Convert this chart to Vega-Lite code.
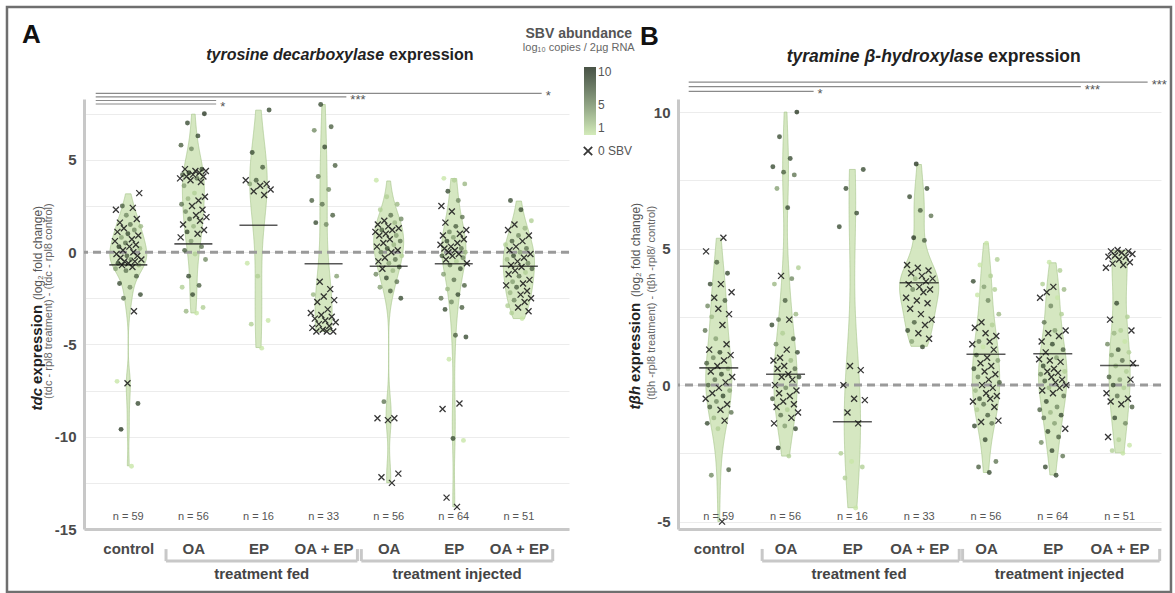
{
"$schema": "https://vega.github.io/schema/vega-lite/v6.json",
"background": "white",
"padding": {"left": 5, "top": 5, "right": 0, "bottom": 0},
"autosize": {"type": "pad"},
"bounds": "flush",
"spacing": 109,
"resolve": {"scale": {"color": "independent", "shape": "independent"}},
"config": {
  "font": "Liberation Sans",
  "view": {"stroke": null},
  "axis": {"domainColor": "#c8c8c8", "domainWidth": 3, "ticks": false, "labelFontSize": 15, "labelFontWeight": "bold", "labelColor": "#4a4a4a", "gridColor": "#ececec", "labelFont": "Liberation Sans", "labelFlush": false},
  "legend": {"labelFont": "Liberation Sans"},
  "text": {"font": "Liberation Sans"}
},
"datasets": {
  "one": [{}],
  "nn": [{"g":0,"n":59},{"g":1,"n":56},{"g":2,"n":16},{"g":3,"n":33},{"g":4,"n":56},{"g":5,"n":64},{"g":6,"n":51}],
  "brk": [{"from":1,"to":3,"lab":"treatment fed"},{"from":4,"to":6,"lab":"treatment injected"}],
  "sigA": [{"to":6,"lab":"*","tier":0},{"to":3,"lab":"***","tier":1},{"to":1,"lab":"","tier":2},{"to":1,"lab":"*","tier":3}],
  "sigB": [{"to":6,"lab":"***","tier":0},{"to":5,"lab":"***","tier":1},{"to":1,"lab":"*","tier":2}],
  "medA": [{"g":0,"m":-0.69},{"g":1,"m":0.45},{"g":2,"m":1.46},{"g":3,"m":-0.63},{"g":4,"m":-0.76},{"g":5,"m":-0.63},{"g":6,"m":-0.76}],
  "medB": [{"g":0,"m":0.63},{"g":1,"m":0.4},{"g":2,"m":-1.34},{"g":3,"m":3.75},{"g":4,"m":1.13},{"g":5,"m":1.15},{"g":6,"m":0.72}],
  "tdc": [
{"g":0,"v":3.2,"s":0},{"g":0,"v":2.4,"s":0},{"g":0,"v":2.3,"s":0},{"g":0,"v":1.8,"s":0},{"g":0,"v":1.6,"s":0},{"g":0,"v":1.3,"s":0},{"g":0,"v":1.1,"s":0},{"g":0,"v":0.9,"s":0},{"g":0,"v":0.7,"s":0},{"g":0,"v":0.6,"s":0},{"g":0,"v":0.4,"s":0},{"g":0,"v":0.3,"s":0},{"g":0,"v":0.1,"s":0},{"g":0,"v":0,"s":0},{"g":0,"v":-0.1,"s":0},{"g":0,"v":-0.2,"s":0},{"g":0,"v":-0.3,"s":0},{"g":0,"v":-0.4,"s":0},{"g":0,"v":-0.5,"s":0},{"g":0,"v":-0.5,"s":0},{"g":0,"v":-0.6,"s":0},{"g":0,"v":-0.7,"s":0},{"g":0,"v":-0.8,"s":0},{"g":0,"v":-3.2,"s":0},{"g":0,"v":-7.1,"s":0},
{"g":0,"v":2.5,"s":7},{"g":0,"v":2.0,"s":5},{"g":0,"v":1.5,"s":6},{"g":0,"v":1.4,"s":3},{"g":0,"v":1.0,"s":8},{"g":0,"v":0.8,"s":4},{"g":0,"v":0.5,"s":6},{"g":0,"v":0.2,"s":3},{"g":0,"v":-0.2,"s":7},{"g":0,"v":-0.4,"s":5},{"g":0,"v":-0.6,"s":8},{"g":0,"v":-0.9,"s":4},{"g":0,"v":-1.0,"s":6},{"g":0,"v":-1.3,"s":7},{"g":0,"v":-1.7,"s":8},{"g":0,"v":-1.9,"s":5},{"g":0,"v":-2.3,"s":8},{"g":0,"v":-2.5,"s":6},{"g":0,"v":-7.0,"s":1},{"g":0,"v":-8.2,"s":8},{"g":0,"v":-9.6,"s":9},{"g":0,"v":-11.6,"s":1},{"g":0,"v":1.2,"s":5},{"g":0,"v":-0.7,"s":3},{"g":0,"v":0.3,"s":9},
{"g":1,"v":4.5,"s":0},{"g":1,"v":4.4,"s":0},{"g":1,"v":4.4,"s":0},{"g":1,"v":4.3,"s":0},{"g":1,"v":4.2,"s":0},{"g":1,"v":4.1,"s":0},{"g":1,"v":4.1,"s":0},{"g":1,"v":4.0,"s":0},{"g":1,"v":3.9,"s":0},{"g":1,"v":3.8,"s":0},{"g":1,"v":3.0,"s":0},{"g":1,"v":2.8,"s":0},{"g":1,"v":2.5,"s":0},{"g":1,"v":2.3,"s":0},{"g":1,"v":2.0,"s":0},{"g":1,"v":1.9,"s":0},{"g":1,"v":1.7,"s":0},{"g":1,"v":1.5,"s":0},{"g":1,"v":1.2,"s":0},{"g":1,"v":1.0,"s":0},{"g":1,"v":0.8,"s":0},
{"g":1,"v":7.5,"s":9},{"g":1,"v":7.0,"s":8},{"g":1,"v":6.3,"s":8},{"g":1,"v":5.8,"s":7},{"g":1,"v":5.6,"s":5},{"g":1,"v":4.5,"s":8},{"g":1,"v":4.3,"s":9},{"g":1,"v":4.2,"s":7},{"g":1,"v":4.0,"s":6},{"g":1,"v":3.6,"s":4},{"g":1,"v":3.2,"s":2},{"g":1,"v":2.9,"s":3},{"g":1,"v":2.6,"s":6},{"g":1,"v":2.2,"s":5},{"g":1,"v":1.8,"s":7},{"g":1,"v":1.4,"s":3},{"g":1,"v":1.1,"s":8},{"g":1,"v":0.6,"s":4},{"g":1,"v":0.3,"s":6},{"g":1,"v":0.1,"s":7},{"g":1,"v":-0.1,"s":2},{"g":1,"v":-0.4,"s":5},{"g":1,"v":-1.3,"s":8},{"g":1,"v":-1.8,"s":7},{"g":1,"v":-1.9,"s":2},{"g":1,"v":-2.3,"s":8},{"g":1,"v":-3.0,"s":2},{"g":1,"v":-3.3,"s":1},{"g":1,"v":-3.2,"s":3},
{"g":2,"v":7.7,"s":8},{"g":2,"v":5.4,"s":8},{"g":2,"v":4.6,"s":7},{"g":2,"v":3.9,"s":7},{"g":2,"v":3.7,"s":4},{"g":2,"v":3.9,"s":0},{"g":2,"v":3.7,"s":0},{"g":2,"v":3.6,"s":0},{"g":2,"v":3.4,"s":0},{"g":2,"v":3.3,"s":0},{"g":2,"v":3.1,"s":0},{"g":2,"v":-0.6,"s":1},{"g":2,"v":-1.3,"s":2},{"g":2,"v":-3.7,"s":1},{"g":2,"v":-3.9,"s":2},{"g":2,"v":-5.2,"s":1},
{"g":3,"v":8.0,"s":8},{"g":3,"v":6.8,"s":7},{"g":3,"v":6.6,"s":5},{"g":3,"v":5.7,"s":8},{"g":3,"v":4.7,"s":7},{"g":3,"v":4.1,"s":6},{"g":3,"v":3.4,"s":5},{"g":3,"v":2.8,"s":7},{"g":3,"v":2.6,"s":6},{"g":3,"v":2.0,"s":7},{"g":3,"v":1.6,"s":8},{"g":3,"v":1.5,"s":5},{"g":3,"v":-1.3,"s":4},{"g":3,"v":-2.3,"s":3},
{"g":3,"v":-1.6,"s":0},{"g":3,"v":-2.0,"s":0},{"g":3,"v":-2.4,"s":0},{"g":3,"v":-2.6,"s":0},{"g":3,"v":-2.7,"s":0},{"g":3,"v":-3.1,"s":0},{"g":3,"v":-3.3,"s":0},{"g":3,"v":-3.4,"s":0},{"g":3,"v":-3.5,"s":0},{"g":3,"v":-3.6,"s":0},{"g":3,"v":-3.7,"s":0},{"g":3,"v":-3.8,"s":0},{"g":3,"v":-3.9,"s":0},{"g":3,"v":-4.0,"s":0},{"g":3,"v":-4.1,"s":0},{"g":3,"v":-4.2,"s":0},{"g":3,"v":-4.3,"s":0},{"g":3,"v":-4.3,"s":0},{"g":3,"v":-4.3,"s":0},
{"g":4,"v":1.7,"s":0},{"g":4,"v":1.5,"s":0},{"g":4,"v":1.4,"s":0},{"g":4,"v":1.3,"s":0},{"g":4,"v":1.2,"s":0},{"g":4,"v":1.1,"s":0},{"g":4,"v":1.0,"s":0},{"g":4,"v":0.9,"s":0},{"g":4,"v":0.7,"s":0},{"g":4,"v":0.5,"s":0},{"g":4,"v":0.3,"s":0},{"g":4,"v":0.1,"s":0},{"g":4,"v":0.0,"s":0},{"g":4,"v":-0.3,"s":0},{"g":4,"v":-0.5,"s":0},{"g":4,"v":-0.9,"s":0},{"g":4,"v":-9.0,"s":0},{"g":4,"v":-9.0,"s":0},{"g":4,"v":-9.1,"s":0},{"g":4,"v":-12.0,"s":0},{"g":4,"v":-12.2,"s":0},{"g":4,"v":-12.5,"s":0},
{"g":4,"v":3.9,"s":1},{"g":4,"v":3.0,"s":2},{"g":4,"v":2.6,"s":3},{"g":4,"v":2.3,"s":2},{"g":4,"v":2.0,"s":6},{"g":4,"v":1.8,"s":5},{"g":4,"v":1.6,"s":3},{"g":4,"v":1.2,"s":7},{"g":4,"v":0.9,"s":4},{"g":4,"v":0.6,"s":6},{"g":4,"v":0.4,"s":3},{"g":4,"v":0.2,"s":8},{"g":4,"v":0.0,"s":5},{"g":4,"v":-0.2,"s":2},{"g":4,"v":-0.4,"s":6},{"g":4,"v":-0.6,"s":4},{"g":4,"v":-0.8,"s":7},{"g":4,"v":-1.0,"s":3},{"g":4,"v":-1.2,"s":5},{"g":4,"v":-1.4,"s":8},{"g":4,"v":-1.6,"s":6},{"g":4,"v":-1.9,"s":4},{"g":4,"v":-2.1,"s":7},{"g":4,"v":-2.5,"s":8},{"g":4,"v":-8.1,"s":6},
{"g":5,"v":2.5,"s":0},{"g":5,"v":2.2,"s":0},{"g":5,"v":1.6,"s":0},{"g":5,"v":1.2,"s":0},{"g":5,"v":1.0,"s":0},{"g":5,"v":0.9,"s":0},{"g":5,"v":0.7,"s":0},{"g":5,"v":0.5,"s":0},{"g":5,"v":0.4,"s":0},{"g":5,"v":0.3,"s":0},{"g":5,"v":0.2,"s":0},{"g":5,"v":0.1,"s":0},{"g":5,"v":0.0,"s":0},{"g":5,"v":-0.1,"s":0},{"g":5,"v":-0.2,"s":0},{"g":5,"v":-0.4,"s":0},{"g":5,"v":-0.6,"s":0},{"g":5,"v":-8.2,"s":0},{"g":5,"v":-8.5,"s":0},{"g":5,"v":-13.3,"s":0},{"g":5,"v":-13.8,"s":0},
{"g":5,"v":4.0,"s":1},{"g":5,"v":3.9,"s":2},{"g":5,"v":3.7,"s":3},{"g":5,"v":3.3,"s":8},{"g":5,"v":2.8,"s":5},{"g":5,"v":1.9,"s":6},{"g":5,"v":1.4,"s":7},{"g":5,"v":1.1,"s":5},{"g":5,"v":0.8,"s":4},{"g":5,"v":0.6,"s":8},{"g":5,"v":0.2,"s":6},{"g":5,"v":0.0,"s":3},{"g":5,"v":-0.2,"s":7},{"g":5,"v":-0.3,"s":5},{"g":5,"v":-0.5,"s":2},{"g":5,"v":-0.7,"s":6},{"g":5,"v":-0.9,"s":8},{"g":5,"v":-1.2,"s":4},{"g":5,"v":-1.5,"s":6},{"g":5,"v":-1.8,"s":7},{"g":5,"v":-2.0,"s":3},{"g":5,"v":-2.3,"s":8},{"g":5,"v":-2.5,"s":6},{"g":5,"v":-2.7,"s":5},{"g":5,"v":-3.0,"s":7},{"g":5,"v":-3.1,"s":8},{"g":5,"v":-4.5,"s":7},{"g":5,"v":-4.6,"s":8},{"g":5,"v":-5.8,"s":1},{"g":5,"v":-10.1,"s":8},{"g":5,"v":-10.2,"s":1},
{"g":6,"v":1.5,"s":0},{"g":6,"v":1.2,"s":0},{"g":6,"v":0.9,"s":0},{"g":6,"v":0.6,"s":0},{"g":6,"v":0.3,"s":0},{"g":6,"v":0.1,"s":0},{"g":6,"v":-0.1,"s":0},{"g":6,"v":-0.3,"s":0},{"g":6,"v":-0.5,"s":0},{"g":6,"v":-0.7,"s":0},{"g":6,"v":-0.8,"s":0},{"g":6,"v":-1.0,"s":0},{"g":6,"v":-1.2,"s":0},{"g":6,"v":-1.5,"s":0},{"g":6,"v":-1.7,"s":0},{"g":6,"v":-1.8,"s":0},{"g":6,"v":-2.1,"s":0},{"g":6,"v":-2.3,"s":0},{"g":6,"v":-2.5,"s":0},{"g":6,"v":-2.7,"s":0},{"g":6,"v":-3.0,"s":0},{"g":6,"v":-3.2,"s":0},
{"g":6,"v":2.8,"s":8},{"g":6,"v":2.3,"s":8},{"g":6,"v":1.7,"s":2},{"g":6,"v":1.3,"s":3},{"g":6,"v":0.9,"s":5},{"g":6,"v":0.6,"s":7},{"g":6,"v":0.4,"s":2},{"g":6,"v":0.2,"s":6},{"g":6,"v":0.0,"s":4},{"g":6,"v":-0.2,"s":8},{"g":6,"v":-0.4,"s":3},{"g":6,"v":-0.6,"s":5},{"g":6,"v":-0.9,"s":7},{"g":6,"v":-1.1,"s":2},{"g":6,"v":-1.3,"s":6},{"g":6,"v":-1.6,"s":4},{"g":6,"v":-1.9,"s":7},{"g":6,"v":-2.2,"s":3},{"g":6,"v":-2.6,"s":5},{"g":6,"v":-2.9,"s":2},{"g":6,"v":-3.3,"s":2},{"g":6,"v":-3.6,"s":1}
  ],
  "tbh": [
{"g":0,"v":5.4,"s":0},{"g":0,"v":4.9,"s":0},{"g":0,"v":3.7,"s":0},{"g":0,"v":3.4,"s":0},{"g":0,"v":3.2,"s":0},{"g":0,"v":2.8,"s":0},{"g":0,"v":2.6,"s":0},{"g":0,"v":2.2,"s":0},{"g":0,"v":1.5,"s":0},{"g":0,"v":1.3,"s":0},{"g":0,"v":1.1,"s":0},{"g":0,"v":0.9,"s":0},{"g":0,"v":0.7,"s":0},{"g":0,"v":0.5,"s":0},{"g":0,"v":0.3,"s":0},{"g":0,"v":0.1,"s":0},{"g":0,"v":-0.1,"s":0},{"g":0,"v":-0.3,"s":0},{"g":0,"v":-0.5,"s":0},{"g":0,"v":-0.7,"s":0},{"g":0,"v":-0.9,"s":0},{"g":0,"v":-1.3,"s":0},{"g":0,"v":-5.0,"s":0},
{"g":0,"v":4.5,"s":7},{"g":0,"v":4.1,"s":8},{"g":0,"v":3.7,"s":8},{"g":0,"v":3.1,"s":7},{"g":0,"v":2.9,"s":5},{"g":0,"v":2.5,"s":3},{"g":0,"v":2.0,"s":6},{"g":0,"v":1.7,"s":4},{"g":0,"v":1.2,"s":8},{"g":0,"v":1.0,"s":5},{"g":0,"v":0.8,"s":7},{"g":0,"v":0.6,"s":3},{"g":0,"v":0.4,"s":8},{"g":0,"v":0.2,"s":6},{"g":0,"v":0.0,"s":7},{"g":0,"v":-0.2,"s":4},{"g":0,"v":-0.4,"s":8},{"g":0,"v":-0.6,"s":5},{"g":0,"v":-0.8,"s":7},{"g":0,"v":-1.0,"s":6},{"g":0,"v":-1.2,"s":3},{"g":0,"v":-1.4,"s":8},{"g":0,"v":-1.6,"s":2},{"g":0,"v":-3.1,"s":7},{"g":0,"v":-3.3,"s":5},
{"g":1,"v":4.0,"s":0},{"g":1,"v":2.4,"s":0},{"g":1,"v":1.3,"s":0},{"g":1,"v":1.0,"s":0},{"g":1,"v":0.9,"s":0},{"g":1,"v":0.7,"s":0},{"g":1,"v":0.6,"s":0},{"g":1,"v":0.4,"s":0},{"g":1,"v":0.3,"s":0},{"g":1,"v":0.2,"s":0},{"g":1,"v":0.0,"s":0},{"g":1,"v":-0.2,"s":0},{"g":1,"v":-0.3,"s":0},{"g":1,"v":-0.4,"s":0},{"g":1,"v":-0.6,"s":0},{"g":1,"v":-0.7,"s":0},{"g":1,"v":-0.8,"s":0},{"g":1,"v":-1.0,"s":0},{"g":1,"v":-1.2,"s":0},{"g":1,"v":-1.4,"s":0},
{"g":1,"v":10.0,"s":9},{"g":1,"v":9.1,"s":8},{"g":1,"v":8.3,"s":8},{"g":1,"v":8.0,"s":8},{"g":1,"v":7.8,"s":7},{"g":1,"v":7.7,"s":6},{"g":1,"v":7.2,"s":4},{"g":1,"v":6.5,"s":8},{"g":1,"v":4.3,"s":2},{"g":1,"v":3.9,"s":5},{"g":1,"v":3.7,"s":3},{"g":1,"v":3.1,"s":7},{"g":1,"v":2.6,"s":3},{"g":1,"v":2.4,"s":6},{"g":1,"v":2.2,"s":8},{"g":1,"v":1.9,"s":2},{"g":1,"v":1.7,"s":7},{"g":1,"v":1.5,"s":5},{"g":1,"v":1.2,"s":8},{"g":1,"v":0.9,"s":3},{"g":1,"v":0.6,"s":6},{"g":1,"v":0.3,"s":8},{"g":1,"v":-0.1,"s":5},{"g":1,"v":-0.5,"s":7},{"g":1,"v":-0.9,"s":2},{"g":1,"v":-1.1,"s":6},{"g":1,"v":-1.5,"s":4},{"g":1,"v":-1.6,"s":8},{"g":1,"v":-2.3,"s":9},{"g":1,"v":-2.6,"s":2},
{"g":2,"v":7.9,"s":8},{"g":2,"v":7.2,"s":8},{"g":2,"v":6.3,"s":8},{"g":2,"v":5.8,"s":8},{"g":2,"v":0.7,"s":0},{"g":2,"v":0.55,"s":0},{"g":2,"v":0.0,"s":0},{"g":2,"v":-0.5,"s":0},{"g":2,"v":-0.55,"s":0},{"g":2,"v":-1.0,"s":0},{"g":2,"v":-1.4,"s":0},{"g":2,"v":-2.5,"s":2},{"g":2,"v":-2.8,"s":1},{"g":2,"v":-3.0,"s":2},{"g":2,"v":-3.4,"s":2},{"g":2,"v":-4.5,"s":1},
{"g":3,"v":8.1,"s":9},{"g":3,"v":7.2,"s":8},{"g":3,"v":6.9,"s":8},{"g":3,"v":6.4,"s":7},{"g":3,"v":6.2,"s":6},{"g":3,"v":5.4,"s":9},{"g":3,"v":5.3,"s":7},{"g":3,"v":3.9,"s":3},{"g":3,"v":3.5,"s":5},{"g":3,"v":2.3,"s":7},{"g":3,"v":2.0,"s":8},{"g":3,"v":1.4,"s":8},{"g":3,"v":1.6,"s":4},
{"g":3,"v":4.4,"s":0},{"g":3,"v":4.3,"s":0},{"g":3,"v":4.2,"s":0},{"g":3,"v":4.1,"s":0},{"g":3,"v":4.0,"s":0},{"g":3,"v":3.9,"s":0},{"g":3,"v":3.8,"s":0},{"g":3,"v":3.7,"s":0},{"g":3,"v":3.6,"s":0},{"g":3,"v":3.5,"s":0},{"g":3,"v":3.4,"s":0},{"g":3,"v":3.2,"s":0},{"g":3,"v":3.1,"s":0},{"g":3,"v":3.0,"s":0},{"g":3,"v":2.8,"s":0},{"g":3,"v":2.6,"s":0},{"g":3,"v":2.4,"s":0},{"g":3,"v":2.2,"s":0},{"g":3,"v":1.9,"s":0},{"g":3,"v":1.7,"s":0},
{"g":4,"v":2.3,"s":0},{"g":4,"v":2.1,"s":0},{"g":4,"v":1.9,"s":0},{"g":4,"v":1.8,"s":0},{"g":4,"v":1.6,"s":0},{"g":4,"v":1.5,"s":0},{"g":4,"v":1.3,"s":0},{"g":4,"v":1.0,"s":0},{"g":4,"v":0.8,"s":0},{"g":4,"v":0.7,"s":0},{"g":4,"v":0.5,"s":0},{"g":4,"v":0.4,"s":0},{"g":4,"v":0.2,"s":0},{"g":4,"v":0.0,"s":0},{"g":4,"v":-0.1,"s":0},{"g":4,"v":-0.3,"s":0},{"g":4,"v":-0.4,"s":0},{"g":4,"v":-0.5,"s":0},{"g":4,"v":-0.6,"s":0},{"g":4,"v":-0.8,"s":0},{"g":4,"v":-1.3,"s":0},{"g":4,"v":-1.35,"s":0},
{"g":4,"v":5.2,"s":1},{"g":4,"v":4.6,"s":2},{"g":4,"v":4.4,"s":1},{"g":4,"v":4.0,"s":2},{"g":4,"v":3.8,"s":8},{"g":4,"v":3.6,"s":4},{"g":4,"v":3.5,"s":2},{"g":4,"v":3.3,"s":1},{"g":4,"v":3.1,"s":5},{"g":4,"v":2.6,"s":3},{"g":4,"v":2.2,"s":2},{"g":4,"v":1.6,"s":6},{"g":4,"v":1.4,"s":1},{"g":4,"v":1.1,"s":7},{"g":4,"v":0.9,"s":4},{"g":4,"v":0.6,"s":8},{"g":4,"v":0.3,"s":5},{"g":4,"v":0.1,"s":7},{"g":4,"v":-0.2,"s":3},{"g":4,"v":-0.5,"s":8},{"g":4,"v":-0.7,"s":6},{"g":4,"v":-0.9,"s":2},{"g":4,"v":-1.1,"s":7},{"g":4,"v":-1.4,"s":6},{"g":4,"v":-1.5,"s":8},{"g":4,"v":-2.0,"s":8},{"g":4,"v":-2.8,"s":6},{"g":4,"v":-3.0,"s":7},{"g":4,"v":-3.2,"s":8},
{"g":5,"v":3.6,"s":0},{"g":5,"v":3.4,"s":0},{"g":5,"v":3.2,"s":0},{"g":5,"v":2.0,"s":0},{"g":5,"v":1.9,"s":0},{"g":5,"v":1.8,"s":0},{"g":5,"v":1.6,"s":0},{"g":5,"v":1.2,"s":0},{"g":5,"v":0.95,"s":0},{"g":5,"v":0.9,"s":0},{"g":5,"v":0.85,"s":0},{"g":5,"v":0.6,"s":0},{"g":5,"v":0.5,"s":0},{"g":5,"v":0.45,"s":0},{"g":5,"v":0.3,"s":0},{"g":5,"v":0.2,"s":0},{"g":5,"v":0.1,"s":0},{"g":5,"v":0.0,"s":0},{"g":5,"v":-0.1,"s":0},{"g":5,"v":-0.2,"s":0},{"g":5,"v":-0.3,"s":0},{"g":5,"v":-1.6,"s":0},
{"g":5,"v":4.5,"s":1},{"g":5,"v":4.2,"s":2},{"g":5,"v":3.7,"s":2},{"g":5,"v":3.5,"s":3},{"g":5,"v":3.2,"s":1},{"g":5,"v":2.9,"s":5},{"g":5,"v":2.6,"s":2},{"g":5,"v":2.3,"s":6},{"g":5,"v":2.0,"s":4},{"g":5,"v":1.5,"s":8},{"g":5,"v":1.3,"s":7},{"g":5,"v":1.0,"s":4},{"g":5,"v":0.7,"s":8},{"g":5,"v":0.5,"s":2},{"g":5,"v":0.4,"s":5},{"g":5,"v":0.15,"s":7},{"g":5,"v":-0.1,"s":3},{"g":5,"v":-0.4,"s":6},{"g":5,"v":-0.6,"s":8},{"g":5,"v":-0.8,"s":5},{"g":5,"v":-0.9,"s":7},{"g":5,"v":-1.0,"s":3},{"g":5,"v":-1.1,"s":8},{"g":5,"v":-1.2,"s":6},{"g":5,"v":-1.4,"s":4},{"g":5,"v":-1.7,"s":8},{"g":5,"v":-1.9,"s":7},{"g":5,"v":-2.1,"s":5},{"g":5,"v":-2.4,"s":8},{"g":5,"v":-2.6,"s":6},{"g":5,"v":-3.0,"s":8},{"g":5,"v":-3.3,"s":8},
{"g":6,"v":4.95,"s":0},{"g":6,"v":4.9,"s":0},{"g":6,"v":4.9,"s":0},{"g":6,"v":4.85,"s":0},{"g":6,"v":4.8,"s":0},{"g":6,"v":4.75,"s":0},{"g":6,"v":4.7,"s":0},{"g":6,"v":4.7,"s":0},{"g":6,"v":4.6,"s":0},{"g":6,"v":4.5,"s":0},{"g":6,"v":4.45,"s":0},{"g":6,"v":4.4,"s":0},{"g":6,"v":4.3,"s":0},{"g":6,"v":2.4,"s":0},{"g":6,"v":2.0,"s":0},{"g":6,"v":0.8,"s":0},{"g":6,"v":0.2,"s":0},{"g":6,"v":-0.3,"s":0},{"g":6,"v":-0.5,"s":0},{"g":6,"v":-0.6,"s":0},{"g":6,"v":-0.7,"s":0},{"g":6,"v":-1.9,"s":0},
{"g":6,"v":3.0,"s":8},{"g":6,"v":2.5,"s":2},{"g":6,"v":2.0,"s":2},{"g":6,"v":1.9,"s":3},{"g":6,"v":1.6,"s":1},{"g":6,"v":1.5,"s":5},{"g":6,"v":1.3,"s":8},{"g":6,"v":1.2,"s":2},{"g":6,"v":1.1,"s":4},{"g":6,"v":0.9,"s":6},{"g":6,"v":0.7,"s":3},{"g":6,"v":0.5,"s":2},{"g":6,"v":0.3,"s":7},{"g":6,"v":0.2,"s":4},{"g":6,"v":0.0,"s":8},{"g":6,"v":-0.1,"s":2},{"g":6,"v":-0.4,"s":6},{"g":6,"v":-0.8,"s":7},{"g":6,"v":-1.2,"s":8},{"g":6,"v":-1.4,"s":5},{"g":6,"v":-2.0,"s":2},{"g":6,"v":-2.2,"s":1},{"g":6,"v":-2.4,"s":2},{"g":6,"v":-2.5,"s":1}
  ]
},
"hconcat": [
{
  "width": 485, "height": 430,
  "data": {"name": "tdc"},
  "layer": [
    {
      "transform": [
        {"joinaggregate": [{"op": "min", "field": "v", "as": "lo"}, {"op": "max", "field": "v", "as": "hi"}], "groupby": ["g"]},
        {"density": "v", "groupby": ["g", "lo", "hi"], "steps": 500, "as": ["value", "density"]},
        {"filter": "datum.value >= datum.lo - 0.001 && datum.value <= datum.hi + 0.001"},
        {"calculate": "datum.g - datum.density * 1.15", "as": "xl"},
        {"calculate": "datum.g + datum.density * 1.15", "as": "xr"}
      ],
      "mark": {"type": "area", "orient": "horizontal", "fill": "#d5e7c1", "stroke": "#a9c78e", "strokeWidth": 0.7},
      "encoding": {
        "y": {"field": "value", "type": "quantitative", "scale": {"domain": [-15, 8.3], "nice": false, "zero": false},
              "axis": {"values": [-15,-12.5,-10,-7.5,-5,-2.5,0,2.5,5,7.5], "labelExpr": "datum.value % 5 === 0 ? replace(datum.label, '\u2212', '-') : ''", "grid": true, "title": null, "labelPadding": 8}},
        "x": {"field": "xl", "type": "quantitative", "scale": {"domain": [-0.68, 6.77], "nice": false, "zero": false},
              "axis": {"values": [0,1,2,3,4,5,6], "labelExpr": "['control','OA','EP','OA + EP','OA','EP','OA + EP'][datum.value]", "grid": false, "title": null, "labelPadding": 12, "labelOverlap": false}},
        "x2": {"field": "xr"},
        "detail": {"field": "g", "type": "nominal"}
      }
    },
    {"data": {"name": "one"}, "mark": {"type": "rule", "strokeDash": [8, 5], "strokeWidth": 3, "color": "#9a9a9a"}, "encoding": {"y": {"datum": 0, "type": "quantitative"}}},
    {
      "transform": [
        {"window": [{"op": "row_number", "as": "rn"}], "groupby": ["g"], "sort": [{"field": "v"}]},
        {"calculate": "datum.g + ((datum.rn * 0.618034) % 1 - 0.5) * 0.42", "as": "xj"},
        {"filter": "datum.s > 0"}
      ],
      "mark": {"type": "circle", "size": 24, "opacity": 0.8},
      "encoding": {
        "x": {"field": "xj", "type": "quantitative"},
        "y": {"field": "v", "type": "quantitative"},
        "color": {"field": "s", "type": "quantitative", "scale": {"domain": [1, 10], "range": ["#c8e6a8", "#1b2818"], "clamp": true},
                  "legend": {"orient": "none", "legendX": 500, "legendY": -32, "title": null, "direction": "vertical", "gradientLength": 68, "gradientThickness": 12, "values": [1, 5, 10], "labelFontSize": 12, "labelColor": "#555", "gradientStrokeWidth": 0}}
      }
    },
    {
      "transform": [
        {"window": [{"op": "row_number", "as": "rn"}], "groupby": ["g"], "sort": [{"field": "v"}]},
        {"calculate": "datum.g + ((datum.rn * 0.618034) % 1 - 0.5) * 0.42", "as": "xj"},
        {"filter": "datum.s == 0"},
        {"calculate": "'0 SBV'", "as": "zero"}
      ],
      "mark": {"type": "point", "filled": false, "size": 36, "color": "#222", "strokeWidth": 1.3, "opacity": 0.9},
      "encoding": {
        "x": {"field": "xj", "type": "quantitative"},
        "y": {"field": "v", "type": "quantitative"},
        "shape": {"field": "zero", "type": "nominal", "scale": {"range": ["M-1,-1L1,1M-1,1L1,-1"]},
                  "legend": {"orient": "none", "legendX": 498, "legendY": 46, "title": null, "symbolStrokeColor": "#222", "symbolStrokeWidth": 1.8, "symbolSize": 70, "symbolFillColor": "transparent", "labelFontSize": 12, "labelColor": "#555"}}
      }
    },
    {"data": {"name": "medA"}, "mark": {"type": "tick", "orient": "horizontal", "size": 38, "thickness": 1.6, "color": "#111"},
     "encoding": {"x": {"field": "g", "type": "quantitative"}, "y": {"field": "m", "type": "quantitative"}}},
    {"data": {"name": "nn"}, "transform": [{"calculate": "'n = ' + datum.n", "as": "lbl"}, {"calculate": "-14.36", "as": "ny"}],
     "mark": {"type": "text", "fontSize": 11, "color": "#555"},
     "encoding": {"x": {"field": "g", "type": "quantitative"}, "y": {"field": "ny", "type": "quantitative"}, "text": {"field": "lbl"}}},
    {"data": {"name": "sigA"}, "transform": [{"calculate": "datum.to + 0.35", "as": "xe"}, {"calculate": "-0.5", "as": "xs"}, {"calculate": "8.6 - datum.tier * 0.19", "as": "ys"}],
     "mark": {"type": "rule", "color": "#8a8a8a", "strokeWidth": 1.2},
     "encoding": {"x": {"field": "xs", "type": "quantitative"}, "x2": {"field": "xe"}, "y": {"field": "ys", "type": "quantitative"}}},
    {"data": {"name": "sigA"}, "transform": [{"calculate": "datum.to + 0.35", "as": "xe"}, {"calculate": "8.6 - datum.tier * 0.19", "as": "ys"}],
     "mark": {"type": "text", "align": "left", "dx": 4, "dy": 3, "fontSize": 13, "color": "#555"},
     "encoding": {"x": {"field": "xe", "type": "quantitative"}, "y": {"field": "ys", "type": "quantitative"}, "text": {"field": "lab"}}},
    {"data": {"name": "brk"}, "transform": [{"calculate": "datum.from - 0.42", "as": "xa"}, {"calculate": "datum.to + 0.52", "as": "xb"}, {"calculate": "-16.74", "as": "yh"}, {"calculate": "-16.09", "as": "yt"}],
     "layer": [
       {"mark": {"type": "rule", "color": "#c8c8c8", "strokeWidth": 3},
        "encoding": {"x": {"field": "xa", "type": "quantitative"}, "x2": {"field": "xb"}, "y": {"field": "yh", "type": "quantitative"}}},
       {"mark": {"type": "rule", "color": "#c8c8c8", "strokeWidth": 3},
        "encoding": {"x": {"field": "xa", "type": "quantitative"}, "y": {"field": "yt", "type": "quantitative"}, "y2": {"field": "yh"}}},
       {"mark": {"type": "rule", "color": "#c8c8c8", "strokeWidth": 3},
        "encoding": {"x": {"field": "xb", "type": "quantitative"}, "y": {"field": "yt", "type": "quantitative"}, "y2": {"field": "yh"}}}
     ]},
    {"data": {"name": "brk"}, "transform": [{"calculate": "(datum.from + datum.to) / 2 + 0.05", "as": "xm"}, {"calculate": "-17.45", "as": "ym"}],
     "mark": {"type": "text", "fontSize": 15, "fontWeight": "bold", "color": "#444"},
     "encoding": {"x": {"field": "xm", "type": "quantitative"}, "y": {"field": "ym", "type": "quantitative"}, "text": {"field": "lab"}}},
    {"data": {"name": "one"}, "transform": [{"calculate": "-1.863", "as": "fx1"}, {"calculate": "16.017", "as": "fx2"}, {"calculate": "13.29", "as": "fy1"}, {"calculate": "-18.42", "as": "fy2"}],
     "mark": {"type": "rect", "fill": null, "fillOpacity": 0, "stroke": "#6f6f6f", "strokeWidth": 2.5},
     "encoding": {"x": {"field": "fx1", "type": "quantitative"}, "x2": {"field": "fx2"}, "y": {"field": "fy1", "type": "quantitative"}, "y2": {"field": "fy2"}}},
    {"data": {"name": "one"}, "mark": {"type": "text", "text": "tyrosine decarboxylase", "align": "right", "fontSize": 16, "fontWeight": "bold", "fontStyle": "italic", "color": "#222"},
     "encoding": {"x": {"datum": 3.93, "type": "quantitative"}, "y": {"datum": 10.68, "type": "quantitative"}}},
    {"data": {"name": "one"}, "mark": {"type": "text", "text": "expression", "align": "left", "dx": 5, "fontSize": 16, "fontWeight": "bold", "color": "#222"},
     "encoding": {"x": {"datum": 3.93, "type": "quantitative"}, "y": {"datum": 10.68, "type": "quantitative"}}},
    {"data": {"name": "one"}, "mark": {"type": "text", "text": "A", "fontSize": 26, "fontWeight": "bold", "color": "#111"},
     "encoding": {"x": {"datum": -1.49, "type": "quantitative"}, "y": {"datum": 11.76, "type": "quantitative"}}},
    {"data": {"name": "one"}, "mark": {"type": "text", "text": "tdc", "angle": 270, "align": "right", "baseline": "alphabetic", "fontSize": 15, "fontWeight": "bold", "fontStyle": "italic", "color": "#222"},
     "encoding": {"x": {"datum": -1.325, "type": "quantitative"}, "y": {"datum": -7.36, "type": "quantitative"}}},
    {"data": {"name": "one"}, "mark": {"type": "text", "text": "expression", "angle": 270, "align": "left", "dx": 4, "baseline": "alphabetic", "fontSize": 15, "fontWeight": "bold", "color": "#222"},
     "encoding": {"x": {"datum": -1.325, "type": "quantitative"}, "y": {"datum": -7.36, "type": "quantitative"}}},
    {"data": {"name": "one"}, "mark": {"type": "text", "text": "(log\u2082 fold change)", "angle": 270, "align": "left", "baseline": "alphabetic", "fontSize": 12, "color": "#555"},
     "encoding": {"x": {"datum": -1.325, "type": "quantitative"}, "y": {"datum": -2.59, "type": "quantitative"}}},
    {"data": {"name": "one"}, "mark": {"type": "text", "text": "(tdc - rpl8 treatment) - (tdc - rpl8 control)", "angle": 270, "align": "center", "baseline": "alphabetic", "fontSize": 11, "color": "#666"},
     "encoding": {"x": {"datum": -1.17, "type": "quantitative"}, "y": {"datum": -2.65, "type": "quantitative"}}},
    {"data": {"name": "one"}, "mark": {"type": "text", "text": "SBV abundance", "fontSize": 14, "fontWeight": "bold", "color": "#555"},
     "encoding": {"x": {"datum": 6.92, "type": "quantitative"}, "y": {"datum": 11.82, "type": "quantitative"}}},
    {"data": {"name": "one"}, "mark": {"type": "text", "text": "log\u2081\u2080 copies / 2\u00b5g RNA", "fontSize": 11, "color": "#666"},
     "encoding": {"x": {"datum": 6.92, "type": "quantitative"}, "y": {"datum": 11.06, "type": "quantitative"}}}
  ]
},
{
  "width": 483, "height": 430,
  "data": {"name": "tbh"},
  "layer": [
    {
      "transform": [
        {"joinaggregate": [{"op": "min", "field": "v", "as": "lo"}, {"op": "max", "field": "v", "as": "hi"}], "groupby": ["g"]},
        {"density": "v", "groupby": ["g", "lo", "hi"], "steps": 500, "as": ["value", "density"]},
        {"filter": "datum.value >= datum.lo - 0.001 && datum.value <= datum.hi + 0.001"},
        {"calculate": "datum.g - datum.density * 1.1", "as": "xl"},
        {"calculate": "datum.g + datum.density * 1.1", "as": "xr"}
      ],
      "mark": {"type": "area", "orient": "horizontal", "fill": "#d5e7c1", "stroke": "#a9c78e", "strokeWidth": 0.7},
      "encoding": {
        "y": {"field": "value", "type": "quantitative", "scale": {"domain": [-5.27, 10.48], "nice": false, "zero": false},
              "axis": {"values": [-5,-2.5,0,2.5,5,7.5,10], "labelExpr": "datum.value % 5 === 0 ? replace(datum.label, '\u2212', '-') : ''", "grid": true, "title": null, "labelPadding": 8}},
        "x": {"field": "xl", "type": "quantitative", "scale": {"domain": [-0.61, 6.62], "nice": false, "zero": false},
              "axis": {"values": [0,1,2,3,4,5,6], "labelExpr": "['control','OA','EP','OA + EP','OA','EP','OA + EP'][datum.value]", "grid": false, "title": null, "labelPadding": 12, "labelOverlap": false}},
        "x2": {"field": "xr"},
        "detail": {"field": "g", "type": "nominal"}
      }
    },
    {"data": {"name": "one"}, "mark": {"type": "rule", "strokeDash": [8, 5], "strokeWidth": 3, "color": "#9a9a9a"}, "encoding": {"y": {"datum": 0, "type": "quantitative"}}},
    {
      "transform": [
        {"window": [{"op": "row_number", "as": "rn"}], "groupby": ["g"], "sort": [{"field": "v"}]},
        {"calculate": "datum.g + ((datum.rn * 0.618034) % 1 - 0.5) * 0.42", "as": "xj"},
        {"filter": "datum.s > 0"}
      ],
      "mark": {"type": "circle", "size": 24, "opacity": 0.8},
      "encoding": {
        "x": {"field": "xj", "type": "quantitative"},
        "y": {"field": "v", "type": "quantitative"},
        "color": {"field": "s", "type": "quantitative", "scale": {"domain": [1, 10], "range": ["#c8e6a8", "#1b2818"], "clamp": true}, "legend": null}
      }
    },
    {
      "transform": [
        {"window": [{"op": "row_number", "as": "rn"}], "groupby": ["g"], "sort": [{"field": "v"}]},
        {"calculate": "datum.g + ((datum.rn * 0.618034) % 1 - 0.5) * 0.42", "as": "xj"},
        {"filter": "datum.s == 0"},
        {"calculate": "'0 SBV'", "as": "zero"}
      ],
      "mark": {"type": "point", "filled": false, "size": 36, "color": "#222", "strokeWidth": 1.3, "opacity": 0.9},
      "encoding": {
        "x": {"field": "xj", "type": "quantitative"},
        "y": {"field": "v", "type": "quantitative"},
        "shape": {"field": "zero", "type": "nominal", "scale": {"range": ["M-1,-1L1,1M-1,1L1,-1"]}, "legend": null}
      }
    },
    {"data": {"name": "medB"}, "mark": {"type": "tick", "orient": "horizontal", "size": 39, "thickness": 1.6, "color": "#111"},
     "encoding": {"x": {"field": "g", "type": "quantitative"}, "y": {"field": "m", "type": "quantitative"}}},
    {"data": {"name": "nn"}, "transform": [{"calculate": "'n = ' + datum.n", "as": "lbl"}, {"calculate": "-4.83", "as": "ny"}],
     "mark": {"type": "text", "fontSize": 11, "color": "#555"},
     "encoding": {"x": {"field": "g", "type": "quantitative"}, "y": {"field": "ny", "type": "quantitative"}, "text": {"field": "lbl"}}},
    {"data": {"name": "sigB"}, "transform": [{"calculate": "datum.to + 0.42", "as": "xe"}, {"calculate": "-0.45", "as": "xs"}, {"calculate": "11.1 - datum.tier * 0.17", "as": "ys"}],
     "mark": {"type": "rule", "color": "#8a8a8a", "strokeWidth": 1.2},
     "encoding": {"x": {"field": "xs", "type": "quantitative"}, "x2": {"field": "xe"}, "y": {"field": "ys", "type": "quantitative"}}},
    {"data": {"name": "sigB"}, "transform": [{"calculate": "datum.to + 0.42", "as": "xe"}, {"calculate": "11.1 - datum.tier * 0.17", "as": "ys"}],
     "mark": {"type": "text", "align": "left", "dx": 4, "dy": 3, "fontSize": 13, "color": "#555"},
     "encoding": {"x": {"field": "xe", "type": "quantitative"}, "y": {"field": "ys", "type": "quantitative"}, "text": {"field": "lab"}}},
    {"data": {"name": "brk"}, "transform": [{"calculate": "datum.from - 0.35", "as": "xa"}, {"calculate": "datum.to + 0.6", "as": "xb"}, {"calculate": "-6.44", "as": "yh"}, {"calculate": "-6.0", "as": "yt"}],
     "layer": [
       {"mark": {"type": "rule", "color": "#c8c8c8", "strokeWidth": 3},
        "encoding": {"x": {"field": "xa", "type": "quantitative"}, "x2": {"field": "xb"}, "y": {"field": "yh", "type": "quantitative"}}},
       {"mark": {"type": "rule", "color": "#c8c8c8", "strokeWidth": 3},
        "encoding": {"x": {"field": "xa", "type": "quantitative"}, "y": {"field": "yt", "type": "quantitative"}, "y2": {"field": "yh"}}},
       {"mark": {"type": "rule", "color": "#c8c8c8", "strokeWidth": 3},
        "encoding": {"x": {"field": "xb", "type": "quantitative"}, "y": {"field": "yt", "type": "quantitative"}, "y2": {"field": "yh"}}}
     ]},
    {"data": {"name": "brk"}, "transform": [{"calculate": "(datum.from + datum.to) / 2 + 0.1", "as": "xm"}, {"calculate": "-6.92", "as": "ym"}],
     "mark": {"type": "text", "fontSize": 15, "fontWeight": "bold", "color": "#444"},
     "encoding": {"x": {"field": "xm", "type": "quantitative"}, "y": {"field": "ym", "type": "quantitative"}, "text": {"field": "lab"}}},
    {"data": {"name": "one"}, "mark": {"type": "text", "text": "tyramine \u03b2-hydroxylase", "align": "right", "fontSize": 17.5, "fontWeight": "bold", "fontStyle": "italic", "color": "#222"},
     "encoding": {"x": {"datum": 3.96, "type": "quantitative"}, "y": {"datum": 12.02, "type": "quantitative"}}},
    {"data": {"name": "one"}, "mark": {"type": "text", "text": "expression", "align": "left", "dx": 5, "fontSize": 17.5, "fontWeight": "bold", "color": "#222"},
     "encoding": {"x": {"datum": 3.96, "type": "quantitative"}, "y": {"datum": 12.02, "type": "quantitative"}}},
    {"data": {"name": "one"}, "mark": {"type": "text", "text": "B", "fontSize": 26, "fontWeight": "bold", "color": "#111"},
     "encoding": {"x": {"datum": -1.04, "type": "quantitative"}, "y": {"datum": 12.75, "type": "quantitative"}}},
    {"data": {"name": "one"}, "mark": {"type": "text", "text": "t\u03b2h", "angle": 270, "align": "right", "baseline": "alphabetic", "fontSize": 15, "fontWeight": "bold", "fontStyle": "italic", "color": "#222"},
     "encoding": {"x": {"datum": -1.18, "type": "quantitative"}, "y": {"datum": -0.03, "type": "quantitative"}}},
    {"data": {"name": "one"}, "mark": {"type": "text", "text": "expression", "angle": 270, "align": "left", "dx": 4, "baseline": "alphabetic", "fontSize": 15, "fontWeight": "bold", "color": "#222"},
     "encoding": {"x": {"datum": -1.18, "type": "quantitative"}, "y": {"datum": -0.03, "type": "quantitative"}}},
    {"data": {"name": "one"}, "mark": {"type": "text", "text": "(log\u2082 fold change)", "angle": 270, "align": "left", "baseline": "alphabetic", "fontSize": 12, "color": "#555"},
     "encoding": {"x": {"datum": -1.18, "type": "quantitative"}, "y": {"datum": 3.23, "type": "quantitative"}}},
    {"data": {"name": "one"}, "mark": {"type": "text", "text": "(t\u03b2h -rpl8 treatment) - (t\u03b2h -rpl8/ control)", "angle": 270, "align": "center", "baseline": "alphabetic", "fontSize": 11, "color": "#666"},
     "encoding": {"x": {"datum": -0.95, "type": "quantitative"}, "y": {"datum": 3.01, "type": "quantitative"}}}
  ]
}
]
}
